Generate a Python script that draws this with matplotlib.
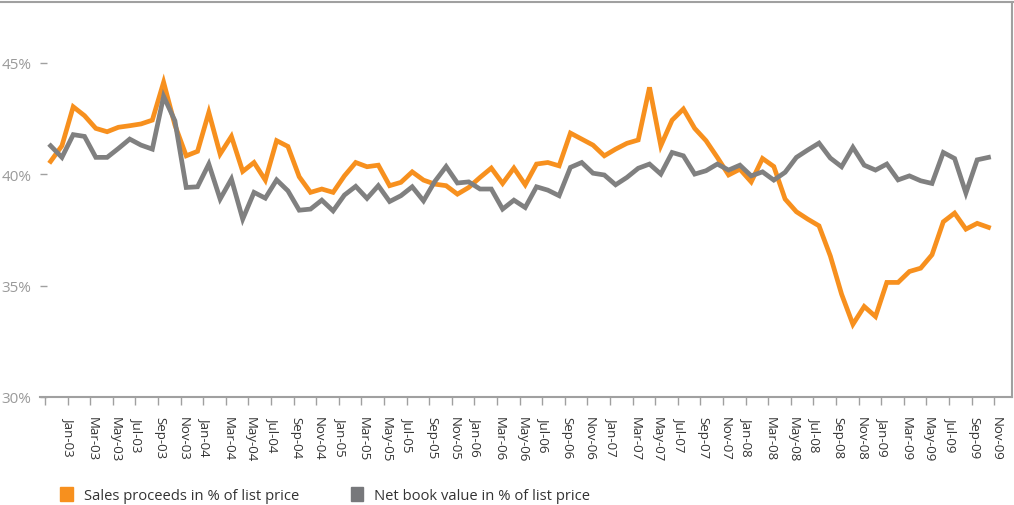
import pandas as pd
import matplotlib
matplotlib.use("Agg")
import matplotlib.pyplot as plt
from matplotlib.patches import Patch
from matplotlib.lines import Line2D

# monthly values, Nov-02 .. Oct-09
sales_proceeds = [
    40.57, 41.27, 43.02, 42.62, 42.05, 41.90, 42.10, 42.17, 42.25, 42.42,
    44.12, 42.20, 40.82, 41.02, 42.77, 40.90, 41.69, 40.12, 40.52, 39.73,
    41.50, 41.24, 39.88, 39.18, 39.33, 39.18, 39.92, 40.52, 40.33, 40.40,
    39.48, 39.63, 40.10, 39.73, 39.55, 39.48, 39.10, 39.40, 39.85, 40.27,
    39.58, 40.27, 39.52, 40.45, 40.52, 40.37, 41.84, 41.57, 41.30, 40.82,
    41.12, 41.38, 41.53, 43.89, 41.27, 42.42, 42.92, 42.05, 41.50, 40.75,
    39.96, 40.22, 39.65, 40.70, 40.34, 38.88, 38.31, 37.98, 37.68, 36.33,
    34.61, 33.26, 34.06, 33.61, 35.14, 35.14, 35.63, 35.78, 36.38, 37.86,
    38.25, 37.53, 37.79, 37.61,
]
net_book_value = [
    41.27, 40.75, 41.77, 41.69, 40.75, 40.75, 41.15, 41.57, 41.30, 41.12,
    43.49, 42.39, 39.40, 39.43, 40.45, 38.88, 39.78, 37.98, 39.18, 38.92,
    39.74, 39.25, 38.38, 38.43, 38.83, 38.35, 39.06, 39.45, 38.91, 39.48,
    38.77, 39.03, 39.43, 38.80, 39.67, 40.34, 39.60, 39.65, 39.33, 39.33,
    38.43, 38.83, 38.50, 39.43, 39.28, 39.03, 40.30, 40.52, 40.04, 39.96,
    39.52, 39.85, 40.26, 40.45, 40.00, 40.97, 40.82, 40.00, 40.15, 40.45,
    40.18, 40.40, 39.92, 40.10, 39.73, 40.08, 40.75, 41.08, 41.39, 40.72,
    40.33, 41.20, 40.40, 40.18, 40.45, 39.74, 39.92, 39.70, 39.58, 40.97,
    40.70, 39.15, 40.64, 40.75,
]
months = pd.date_range("2002-11-01", periods=86, freq="MS").strftime("%b-%y").tolist()
y_ticks = [30, 35, 40, 45]
series_labels = ["Sales proceeds in % of list price", "Net book value in % of list price"]

orange = "#f7901e"
grey = "#808080"
frame = "#a0a0a0"

plt.rcParams["font.family"] = ["Open Sans", "DejaVu Sans"]

fig = plt.figure(figsize=(10.14, 5.06), dpi=100)
ax = fig.add_axes([40 / 1014, 108 / 506, 972 / 1014, 395 / 506])

x = range(len(sales_proceeds))
ax.plot(x, sales_proceeds, color=orange, lw=3.4, solid_joinstyle="miter")
ax.plot(x, net_book_value, color=grey, lw=3.4, solid_joinstyle="miter")
ax.set_xlim(-0.94, 85.08)
ax.set_ylim(30, 47.72)

# y axis
ax.set_yticks(y_ticks, [f"{v}%" for v in y_ticks])
ax.tick_params(axis="y", direction="in", length=5, width=1, color=frame,
               labelcolor="#9a9a9a", labelsize=11, pad=6)

# x axis: ticks on category boundaries, labels on every 2nd month
label_idx = list(range(2, 85, 2))
ax.set_xticks([i - 0.5 for i in range(0, 85, 2)], [""] * 43)
ax.set_xticks([i - 0.3 for i in label_idx], [months[i] for i in label_idx], minor=True)
ax.tick_params(axis="x", which="major", direction="out", length=6, width=1, color=frame)
ax.tick_params(axis="x", which="minor", length=0, pad=14, labelsize=9.5,
               labelcolor="#333333", labelrotation=270)
for t in ax.get_xticklabels(minor=True):
    t.set_va("top")
    t.set_ha("center")

for s in ["left", "top"]:
    ax.spines[s].set_visible(False)
ax.spines["bottom"].set_color(frame)
ax.spines["bottom"].set_linewidth(1.5)
ax.spines["right"].set_color(frame)
ax.spines["right"].set_linewidth(1.5)

fig.add_artist(Line2D([0, 1], [1 - 3 / 506, 1 - 3 / 506], color=frame, lw=1.5,
                      transform=fig.transFigure))

handles = [Patch(color=orange), Patch(color="#77787b")]
fig.legend(handles, series_labels, loc="center left", bbox_to_anchor=(47 / 1014, 10 / 506),
           ncol=2, frameon=False, fontsize=10.6, handlelength=0.85, handleheight=1.05,
           handletextpad=0.75, columnspacing=3.5, labelcolor="#333333")

fig.savefig("out.png", dpi=100)
